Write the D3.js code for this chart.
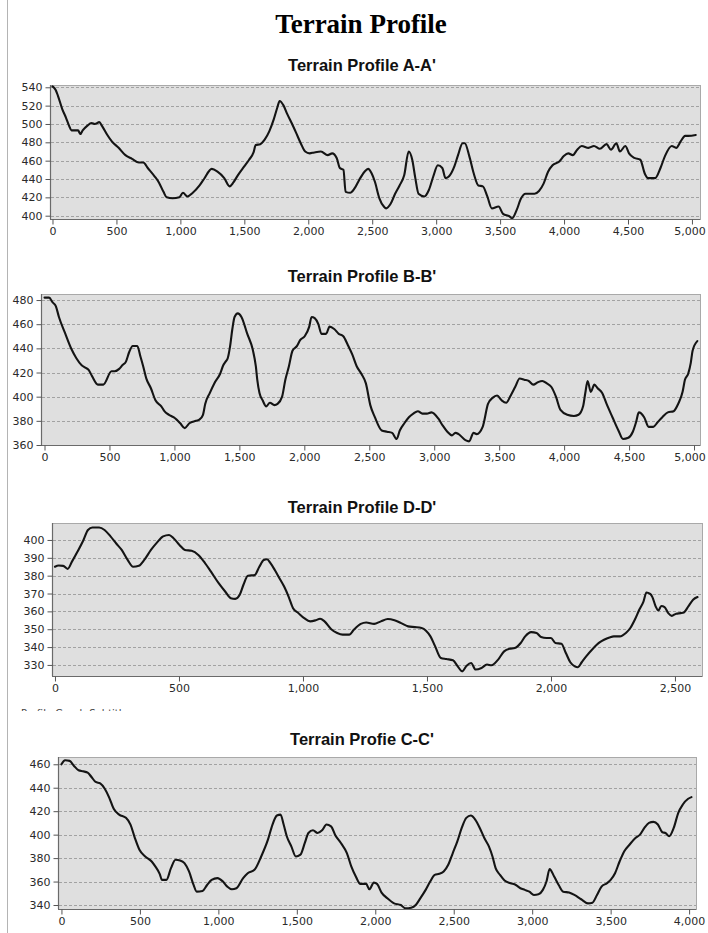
<!DOCTYPE html>
<html>
<head>
<meta charset="utf-8">
<script src="https://cdn.jsdelivr.net/npm/d3@7"></script>
<style>
  html, body { margin: 0; padding: 0; background: #ffffff; }
  svg { display: block; }
</style>
</head>
<body>
<svg id="chart" width="708" height="933"></svg>
<script>
// ---------- DATA ----------
const mainTitle = "Terrain Profile";
const subtitleText = "Profile Graph Subtitle";

const titleA = "Terrain Profile A-A'";
const distA = [0,25,42,77,105,130,148,200,218,236,271,306,331,366,387,429,464,517,570,622,675,710,745,798,833,868,893,939,992,1020,1055,1097,1150,1185,1245,1290,1343,1385,1413,1449,1501,1537,1572,1589,1624,1659,1695,1730,1758,1776,1807,1835,1870,1906,1941,1976,2011,2046,2099,2152,2187,2222,2247,2275,2292,2328,2363,2398,2440,2468,2496,2521,2556,2591,2609,2644,2679,2714,2750,2785,2813,2837,2862,2908,2943,2978,3013,3048,3073,3101,3143,3171,3207,3224,3259,3294,3330,3365,3400,3435,3488,3523,3576,3593,3629,3664,3699,3769,3804,3840,3875,3910,3963,3998,4033,4068,4103,4138,4191,4234,4280,4332,4367,4409,4437,4479,4508,4550,4596,4631,4656,4712,4754,4789,4842,4877,4912,4947,4972,5030];
const elevA = [541,537,531,516,507,498,493,493,489,493,498,501,500,502,498,488,481,474,466,462,458,458,452,443,436,426,420,419,420,425,421,425,433,440,451,448,441,432,436,444,454,461,469,477,478,483,492,505,518,525,520,511,501,490,479,470,468,469,470,466,468,463,452,450,426,425,430,439,448,451,446,437,419,410,408,413,424,433,444,470,461,441,424,421,428,443,455,452,441,443,454,466,479,479,465,446,433,432,421,408,410,402,399,397,406,419,424,424,427,435,448,455,459,465,468,466,472,476,474,476,473,478,472,479,470,476,468,463,461,446,441,441,452,465,476,474,481,487,487,488];
const xTicksA = [0,500,1000,1500,2000,2500,3000,3500,4000,4500,5000];
const yTicksA = [400,420,440,460,480,500,520,540];

const titleB = "Terrain Profile B-B'";
const distB = [0,35,63,87,111,157,209,244,286,314,341,366,411,453,516,540,575,599,627,652,679,714,739,760,784,819,854,899,923,958,993,1017,1045,1080,1115,1167,1192,1220,1237,1272,1307,1352,1376,1394,1411,1429,1446,1463,1488,1516,1561,1603,1627,1638,1655,1679,1707,1735,1770,1794,1829,1854,1881,1909,1944,1969,2003,2038,2056,2080,2108,2132,2167,2195,2230,2265,2300,2334,2369,2404,2439,2474,2508,2543,2596,2637,2676,2711,2735,2770,2805,2839,2874,2909,2944,2979,3031,3066,3101,3136,3163,3188,3240,3268,3303,3327,3373,3414,3449,3484,3519,3554,3589,3623,3658,3693,3728,3763,3798,3832,3867,3902,3937,3972,4024,4076,4111,4146,4163,4181,4205,4233,4258,4293,4327,4372,4418,4453,4494,4529,4554,4575,4616,4651,4686,4721,4756,4798,4843,4878,4912,4930,4955,4975,4989,5025];
const elevB = [482,482,478,475,466,453,439,432,426,424,422,417,410,410,421,421,423,426,429,437,442,442,433,425,415,407,397,392,388,385,383,381,378,374,378,380,381,385,394,403,411,419,426,429,432,442,456,466,469,466,452,439,425,414,403,397,392,395,393,394,400,414,425,438,442,447,450,458,466,465,460,452,452,458,456,452,450,443,435,425,419,411,393,383,372,371,370,365,372,378,383,386,388,386,386,387,382,376,371,368,370,369,364,363,370,369,375,394,399,401,397,395,401,408,415,414,413,410,412,413,411,408,400,389,385,384,385,392,403,413,404,410,407,403,394,383,372,365,366,371,379,387,383,375,375,379,383,387,388,394,404,414,419,428,438,446,447];
const xTicksB = [0,500,1000,1500,2000,2500,3000,3500,4000,4500,5000];
const yTicksB = [360,380,400,420,440,460,480];

const titleD = "Terrain Profile D-D'";
const distD = [0,15,33,51,69,91,115,133,151,178,200,224,247,269,293,315,338,360,387,411,436,460,478,502,524,551,578,605,633,660,687,709,727,745,760,778,805,824,842,855,869,887,905,924,942,960,982,1005,1029,1051,1069,1087,1114,1138,1160,1187,1205,1233,1255,1287,1314,1342,1369,1396,1424,1451,1478,1496,1514,1533,1556,1578,1605,1624,1642,1660,1678,1696,1720,1742,1760,1787,1811,1833,1854,1878,1896,1920,1942,1960,1982,2000,2018,2042,2060,2078,2096,2109,2124,2142,2169,2196,2214,2236,2254,2278,2302,2320,2338,2356,2373,2385,2400,2409,2422,2433,2445,2458,2473,2487,2505,2523,2536,2554,2573,2591];
const elevD = [385,385.7,385.5,383.8,388,393.5,400,405.6,407,407,405.6,402,398,394.4,388.8,385,385.5,388.8,394.4,398.5,402,402.8,401,397.2,394.4,393.9,391.6,387,381.4,375.8,371,367.4,367,369.3,374.9,380,380.3,385,388.8,389.2,387,383,378.6,373.9,368.3,361.8,359,356.2,354.4,355,355.9,354.4,350,347.9,347,347,349.7,353,353.8,353,354.4,355.7,355,353.4,351.6,351.2,350.7,349.2,346,340.4,333.9,333.3,332.6,329.2,326.4,329.6,331.1,327.4,328.3,330.2,329.8,333,337.6,339.1,339.5,342.3,346,348.4,347.9,345.6,345.1,345.1,342.3,341.9,336.7,331.5,329.2,328.7,331.5,334.8,339.1,342.6,344.1,345.4,346,346,347.9,350.7,355.3,360.9,365.5,370.6,369.8,368,362.8,360.5,363,362.4,359,357.5,358.7,359,359.4,362.8,366.5,368];
const xTicksD = [0,500,1000,1500,2000,2500];
const yTicksD = [330,340,350,360,370,380,390,400];

const titleC = "Terrain Profie C-C'";
const distC = [0,23,52,80,109,138,167,190,218,247,276,305,333,368,411,440,468,497,534,575,598,626,641,669,698,727,756,784,813,842,862,899,928,957,994,1029,1057,1086,1115,1158,1187,1230,1273,1316,1345,1373,1396,1416,1436,1465,1494,1523,1551,1574,1603,1632,1661,1689,1718,1747,1781,1819,1847,1876,1905,1942,1962,1991,2011,2040,2077,2120,2163,2192,2229,2258,2287,2321,2350,2379,2408,2436,2465,2494,2523,2551,2580,2609,2637,2666,2695,2724,2747,2767,2795,2824,2862,2896,2925,2953,2982,3011,3040,3068,3091,3111,3140,3169,3198,3235,3269,3312,3355,3384,3413,3442,3477,3500,3528,3557,3586,3620,3658,3687,3715,3744,3773,3801,3830,3850,3873,3902,3931,3960,3994,4015];
const elevC = [460,463.4,462.9,458.6,454.9,454,452.9,449.4,444.9,443.7,439.1,431.4,422,417.1,414.3,408.6,397.1,387.1,381.4,377.1,372.9,366.6,361.4,361.4,371.4,378.6,378,375.7,368.6,357.1,351.4,352,357.1,361.4,362.9,360,355.7,353.4,354.3,362.9,367.1,370,381.4,395.7,408.6,416.3,417.1,408.6,398.6,390,381.4,382.9,392.9,401.4,403.7,401.4,403.7,408.6,407.1,399.1,392.9,384.3,372.9,364.3,358,358,353.4,359.1,358,350.6,345.7,341.4,340,337.1,337.7,340,345.7,352.9,360,365.7,366.6,368.6,374.3,384.3,394.3,405.7,414.3,416.3,412.9,405.7,397.1,390,381.4,371.4,365.7,360.9,358.6,357.1,354.3,352.9,351.4,348.6,349.1,352.9,360,370.6,364.3,357.1,351.4,350.6,348.6,344.9,341.4,342,348.6,355.7,358.6,361.4,367.1,377.1,385.7,391.4,397.1,400,405.7,410,410.9,408.6,402,401.4,398.6,405.7,418.6,425.7,430.6,432];
const xTicksC = [0,500,1000,1500,2000,2500,3000,3500,4000];
const yTicksC = [340,360,380,400,420,440,460];

// ---------- LAYOUT ----------
const panels = [
  { title: titleA, dist: distA, elev: elevA, xTicks: xTicksA, yTicks: yTicksA,
    box: { left: 50, right: 700, top: 85, bottom: 219 }, xDom: [-19.5, 5063], yDom: [396.4, 542.5], titleY: 71 },
  { title: titleB, dist: distB, elev: elevB, xTicks: xTicksB, yTicks: yTicksB,
    box: { left: 41, right: 700, top: 294, bottom: 445 }, xDom: [-27, 5046], yDom: [360, 485], titleY: 282 },
  { title: titleD, dist: distD, elev: elevD, xTicks: xTicksD, yTicks: yTicksD,
    box: { left: 52, right: 702, top: 523, bottom: 676 }, xDom: [-12, 2609], yDom: [323.8, 409.5], titleY: 513 },
  { title: titleC, dist: distC, elev: elevC, xTicks: xTicksC, yTicks: yTicksC,
    box: { left: 58, right: 696, top: 757, bottom: 909 }, xDom: [-22, 4044], yDom: [336.6, 466.2], titleY: 745 }
];

const svg = d3.select("#chart");

// left page border
svg.append("line")
  .attr("x1", 7.5).attr("x2", 7.5).attr("y1", 0).attr("y2", 933)
  .attr("stroke", "#b4b4b4").attr("stroke-width", 1);

// main title
svg.append("text")
  .attr("x", 361).attr("y", 33)
  .attr("text-anchor", "middle")
  .attr("font-family", "'Liberation Serif', 'Times New Roman', serif")
  .attr("font-weight", "bold")
  .attr("font-size", 27)
  .attr("fill", "#000")
  .text(mainTitle);

panels.forEach((p, i) => {
  const b = p.box;
  const x = d3.scaleLinear().domain(p.xDom).range([b.left, b.right]);
  const y = d3.scaleLinear().domain(p.yDom).range([b.bottom, b.top]);
  const g = svg.append("g");

  // subplot title
  g.append("text")
    .attr("x", 362).attr("y", p.titleY)
    .attr("text-anchor", "middle")
    .attr("font-family", "'Liberation Sans', Arial, sans-serif")
    .attr("font-weight", "bold")
    .attr("font-size", 16.5)
    .attr("fill", "#111")
    .text(p.title);

  // plot background
  g.append("rect")
    .attr("x", b.left + 0.5).attr("y", b.top + 0.5)
    .attr("width", b.right - b.left).attr("height", b.bottom - b.top)
    .attr("fill", "#dfdfdf")
    .attr("stroke", "#a9a9a9").attr("stroke-width", 1);

  // gridlines
  g.append("g").selectAll("line")
    .data(p.yTicks)
    .join("line")
    .attr("x1", b.left + 1).attr("x2", b.right)
    .attr("y1", d => Math.round(y(d)) + 0.5).attr("y2", d => Math.round(y(d)) + 0.5)
    .attr("stroke", "#a2a2a2").attr("stroke-width", 1)
    .attr("stroke-dasharray", "3,2");

  // profile line
  const pts = p.dist.map((d, k) => [d, p.elev[k]]);
  g.append("path")
    .datum(pts)
    .attr("fill", "none")
    .attr("stroke", "#141414")
    .attr("stroke-width", 2.1)
    .attr("stroke-linejoin", "round")
    .attr("stroke-linecap", "round")
    .attr("d", d3.line().x(d => x(d[0])).y(d => y(d[1])).curve(d3.curveMonotoneX));

  // axes
  const xAxis = d3.axisBottom(x).tickValues(p.xTicks).tickFormat(d3.format(","))
    .tickSize(5).tickSizeOuter(0).tickPadding(3);
  const yAxis = d3.axisLeft(y).tickValues(p.yTicks).tickFormat(d3.format("d"))
    .tickSize(5).tickSizeOuter(0).tickPadding(3);

  const gx = g.append("g").attr("transform", `translate(0,${b.bottom + 0.5})`).call(xAxis);
  const gy = g.append("g").attr("transform", `translate(${b.left + 0.5},0)`).call(yAxis);
  [gx, gy].forEach(ax => {
    ax.select(".domain").attr("stroke", "#6a6a6a").attr("stroke-width", 1.2);
    ax.selectAll(".tick line").attr("stroke", "#555");
    ax.selectAll(".tick text")
      .attr("font-family", "'DejaVu Sans', Verdana, sans-serif")
      .attr("font-size", 11)
      .attr("fill", "#2a2a2a");
  });
  // keep the right-most x label inside the page
  gx.selectAll(".tick text")
    .attr("dx", d => Math.min(0, 705 - (x(d) + 15.5)));
  gx.select(".domain").attr("d", `M${b.left},0H${b.right}`);
  gy.select(".domain").attr("d", `M0,${b.top}V${b.bottom}`);
});

// partially visible caption under panel D (clipped like in the source)
svg.append("clipPath").attr("id", "capClip")
  .append("rect").attr("x", 0).attr("y", 704).attr("width", 200).attr("height", 7);
svg.append("text")
  .attr("clip-path", "url(#capClip)")
  .attr("x", 21).attr("y", 717)
  .attr("font-family", "'DejaVu Sans', Verdana, sans-serif")
  .attr("font-size", 10)
  .attr("fill", "#444")
  .text(subtitleText);
</script>
</body>
</html>
